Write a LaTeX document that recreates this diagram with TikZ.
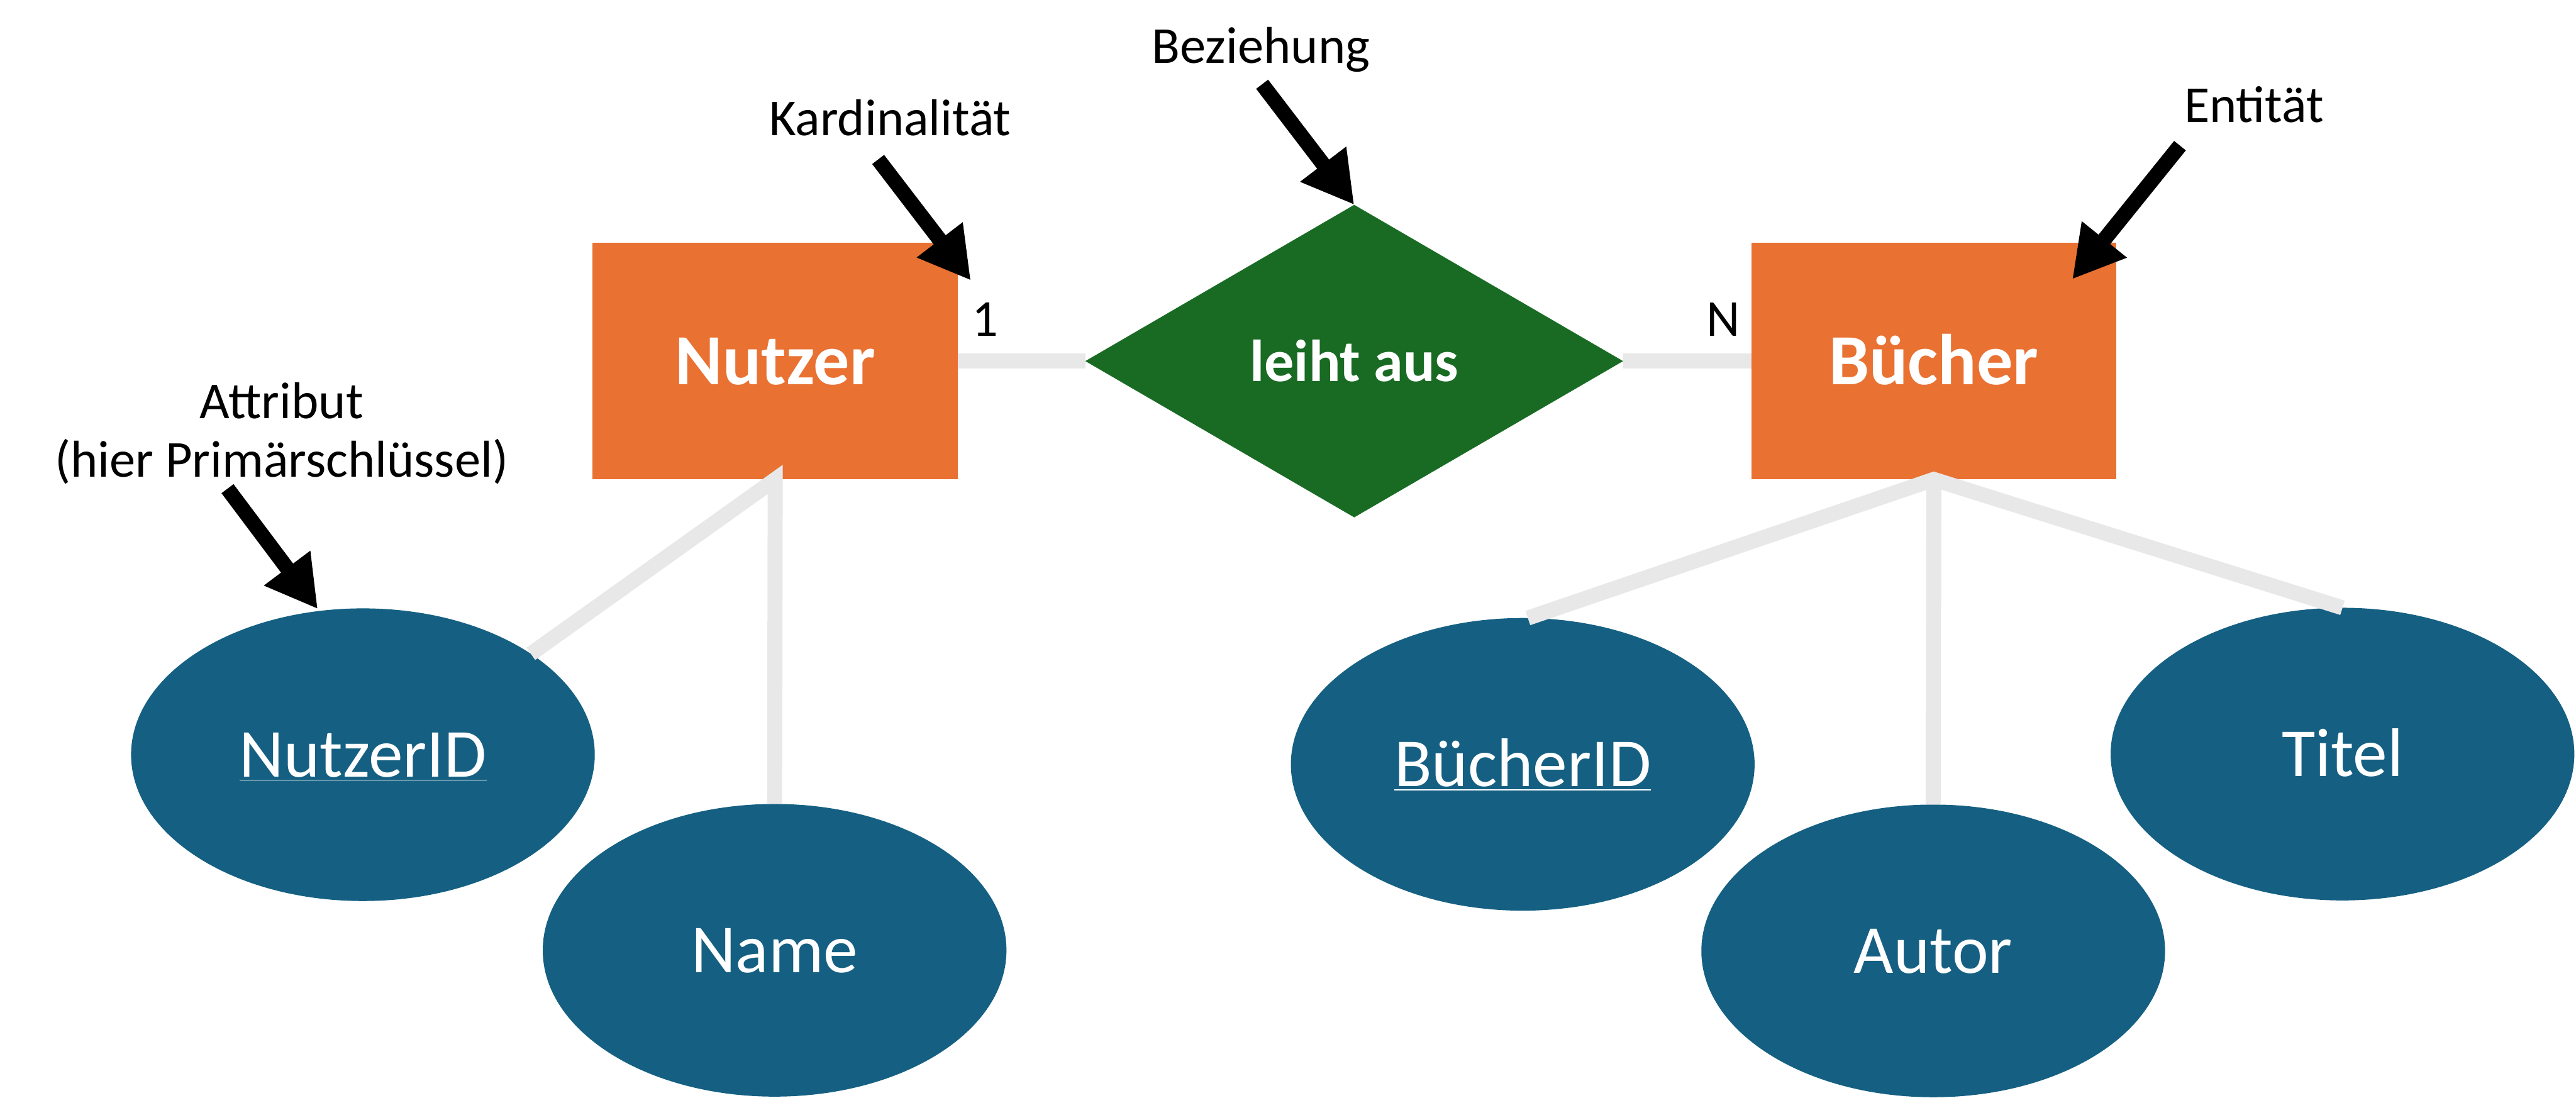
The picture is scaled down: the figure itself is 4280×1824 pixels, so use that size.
\documentclass[tikz,border=0pt]{standalone}
\usepackage{fontspec}
\setmainfont{Carlito}
\usetikzlibrary{shapes.geometric,arrows.meta}
\definecolor{entorange}{HTML}{E97132}
\definecolor{relgreen}{HTML}{196B24}
\definecolor{attrblue}{HTML}{156082}
\definecolor{linkgrey}{HTML}{E8E8E8}
\begin{document}
\begin{tikzpicture}[x=0.01cm,y=-0.01cm,
  entity/.style={rectangle, fill=entorange, minimum width=6.06cm, minimum height=3.93cm, inner sep=0pt, outer sep=0pt, text=white, font=\fontsize{34}{40}\selectfont\bfseries, text height=21.9pt, text depth=0pt},
  relation/.style={diamond, fill=relgreen, minimum width=8.93cm, minimum height=5.19cm, inner sep=0pt, outer sep=0pt, text=white, font=\fontsize{28}{33}\selectfont\bfseries, text height=19.3pt, text depth=0pt},
  attribute/.style={ellipse, fill=attrblue, minimum width=7.7cm, minimum height=4.86cm, inner sep=0pt, outer sep=0pt, text=white, font=\fontsize{32.5}{38}\selectfont, text height=20.9pt, text depth=0pt},
  link/.style={draw=linkgrey, line width=0.25cm, line join=miter},
  pointer/.style={draw=black, line width=0.25cm, -{Triangle[length=0.85cm, width=0.9cm]}},
  annot/.style={font=\fontsize{24.5}{29}\selectfont, anchor=base, inner sep=0pt},
]
\useasboundingbox (0,0) rectangle (4280,1824);

% entities, relationship, attributes
\node[entity] (nutzer) at (1288,600) {Nutzer};
\node[relation] (leiht) at (2250,600) {leiht aus};
\node[entity] (buecher) at (3213,600) {Bücher};
\node[attribute] (nid) at (603,1254) {\underline{NutzerID}};
\node[attribute] (name) at (1287,1579) {Name};
\node[attribute] (bid) at (2530,1270) {\underline{BücherID}};
\node[attribute] (autor) at (3212,1580) {Autor};
\node[attribute] (titel) at (3892,1253) {Titel};

% grey connectors
\draw[link] (nutzer.east) -- (leiht.west);
\draw[link] (leiht.east) -- (buecher.west);
\draw[link] (nid.31) -- (nutzer.south) -- (name.north);
\draw[link] (bid.88) -- (buecher.south) -- (titel.north);
\draw[link] (buecher.south) -- (autor.north);

% cardinalities
\node[annot] (one) at (1637,558) {1};
\node[annot] (enn) at (2863,559) {N};

% annotation labels
\node[annot] (kard) at (1479,225) {Kardinalität};
\node[annot] (bez) at (2095,105) {Beziehung};
\node[annot] (ent) at (3745,203) {Entität};
\node[annot] (attr) at (468,695) {Attribut};
\node[annot] (attrnote) at (468,793) {(hier Primärschlüssel)};

% pointer arrows
\coordinate (kardtail) at (1459,265);
\coordinate (kardtip) at (1613,466);
\coordinate (beztail) at (2097,140);
\coordinate (enttail) at (3622,242);
\coordinate (enttip) at (3443,464);
\coordinate (attrtail) at (378,812);
\coordinate (attrtip) at (528,1012);
\draw[pointer] (kardtail) -- (kardtip);
\draw[pointer] (beztail) -- (leiht.north);
\draw[pointer] (enttail) -- (enttip);
\draw[pointer] (attrtail) -- (attrtip);
\end{tikzpicture}
\end{document}
